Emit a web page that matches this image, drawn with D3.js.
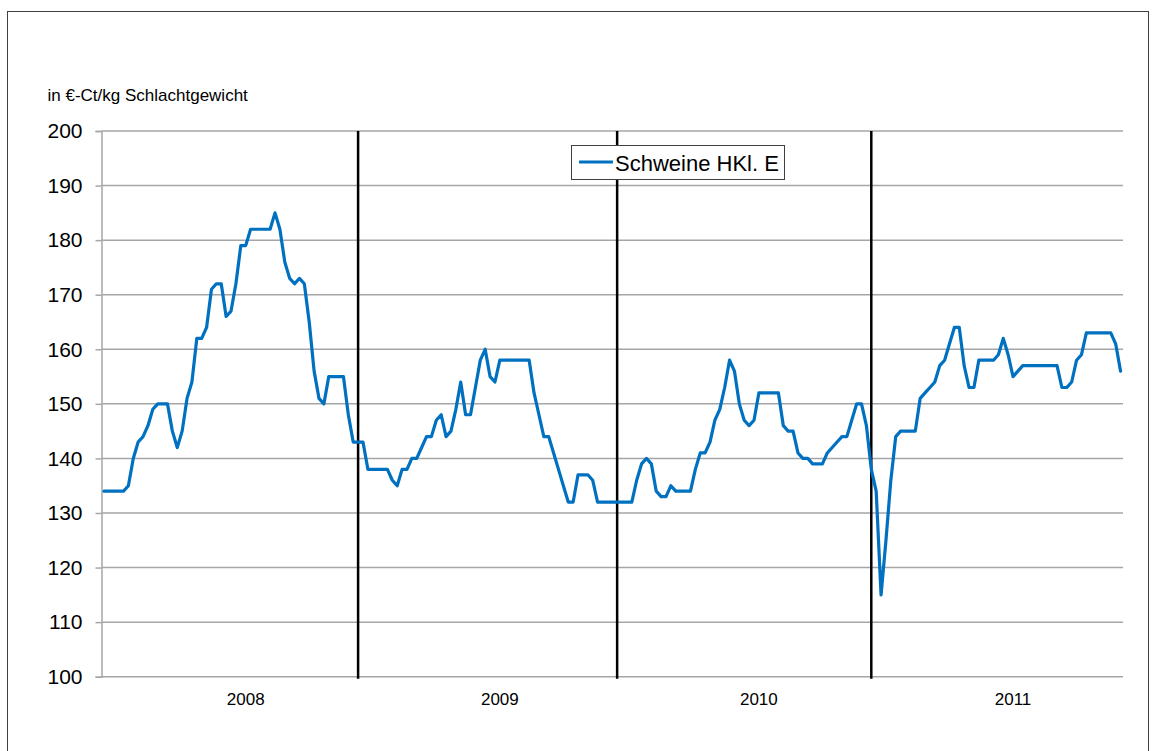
<!DOCTYPE html>
<html>
<head>
<meta charset="utf-8">
<script src="https://cdn.jsdelivr.net/npm/d3@7"></script>
<style>
  body { margin: 0; background: #fff; }
  svg text { font-family: "Liberation Sans", Arial, sans-serif; fill: #000; }
</style>
</head>
<body>
<div id="chart"></div>
<script>
// weekly prices, Schweine HKl. E (in €-Ct/kg Schlachtgewicht)
var prices2008 = [134,134,134,134,134,135,140,143,144,146,149,150,150,150,145,142,145,151,154,162,
  162,164,171,172,172,166,167,172,179,179,182,182,182,182,182,185,182,176,173,172,
  173,172,165,156,151,150,155,155,155,155,148,143];
var prices2009 = [143,143,138,138,138,138,138,136,135,138,138,140,140,142,144,144,147,148,144,145,
  149,154,148,148,153,158,160,155,154,158,158,158,158,158,158,158,152,148,144,144,
  141,138,135,132,132,137,137,137,136,132,132,132,132];
var prices2010 = [132,132,132,132,136,139,140,139,134,133,133,135,134,134,134,134,138,141,141,143,
  147,149,153,158,156,150,147,146,147,152,152,152,152,152,146,145,145,141,140,140,
  139,139,139,141,142,143,144,144,147,150,150,146];
var prices2011 = [138,134,115,125,136,144,145,145,145,145,151,152,153,154,157,158,161,164,164,157,
  153,153,158,158,158,158,159,162,159,155,156,157,157,157,157,157,157,157,157,153,
  153,154,158,159,163,163,163,163,163,163,161,156];

var years = ["2008", "2009", "2010", "2011"];
var yTicks = [100, 110, 120, 130, 140, 150, 160, 170, 180, 190, 200];
var seriesName = "Schweine HKl. E";
var unitLabel = "in €-Ct/kg Schlachtgewicht";

var width = 1156,
    height = 751,
    blue = "#0070c0",
    gridColor = "#a6a6a6",
    labelWeek = 29; // year label sits under this week of each year

var yearly = [prices2008, prices2009, prices2010, prices2011];
var data = [];
var yearStart = [];
yearly.forEach(function(arr) {
  yearStart.push(data.length);
  arr.forEach(function(v) { data.push(v); });
});

var svg = d3.select("#chart").append("svg")
    .attr("width", width)
    .attr("height", height);

// outer frame
svg.append("rect")
    .attr("x", 7.5).attr("y", 11.5)
    .attr("width", 1141).attr("height", 760)
    .attr("fill", "none")
    .attr("stroke", "#404040")
    .attr("stroke-width", 1);

var x = d3.scaleLinear()
    .domain([-0.5, data.length - 0.5])
    .range([101.5, 1123]);

var y = d3.scaleLinear()
    .domain([100, 200])
    .range([676.7, 131]);

// gridlines
svg.append("g").selectAll("line")
    .data(yTicks)
  .enter().append("line")
    .attr("x1", x.range()[0]).attr("x2", x.range()[1])
    .attr("y1", function(d) { return y(d); })
    .attr("y2", function(d) { return y(d); })
    .attr("stroke", gridColor)
    .attr("stroke-width", 1.5);

// y axis
var yAxis = svg.append("g")
    .attr("transform", "translate(" + x.range()[0] + ",0)")
    .call(d3.axisLeft(y).tickValues(yTicks).tickSize(6).tickPadding(13));
yAxis.select(".domain").attr("stroke", gridColor).attr("stroke-width", 1.5);
yAxis.selectAll(".tick line").attr("stroke", gridColor).attr("stroke-width", 1.5);
yAxis.selectAll("text")
    .style("font-family", "'Liberation Sans', Arial, sans-serif")
    .attr("font-size", 21)
    .attr("fill", "#000");

// year separators at week 1 of each following year
svg.append("g").selectAll("line")
    .data(yearStart.slice(1))
  .enter().append("line")
    .attr("x1", function(d) { return x(d); })
    .attr("x2", function(d) { return x(d); })
    .attr("y1", y(200))
    .attr("y2", y(100) + 2)
    .attr("stroke", "#000")
    .attr("stroke-width", 2.5);

// year labels
svg.append("g").selectAll("text")
    .data(years)
  .enter().append("text")
    .attr("x", function(d, i) { return x(yearStart[i] + labelWeek); })
    .attr("y", 705)
    .attr("text-anchor", "middle")
    .attr("font-size", 17)
    .text(function(d) { return d; });

// price line
var line = d3.line()
    .x(function(d, i) { return x(i); })
    .y(function(d) { return y(d); });

svg.append("path")
    .datum(data)
    .attr("d", line)
    .attr("fill", "none")
    .attr("stroke", blue)
    .attr("stroke-width", 3.2)
    .attr("stroke-linejoin", "round")
    .attr("stroke-linecap", "round");

// unit label
svg.append("text")
    .attr("x", 47.5)
    .attr("y", 101)
    .attr("font-size", 17)
    .text(unitLabel);

// legend
var legend = svg.append("g");
legend.append("rect")
    .attr("x", 571.5).attr("y", 145.5)
    .attr("width", 213).attr("height", 34)
    .attr("fill", "#fff")
    .attr("stroke", "#404040")
    .attr("stroke-width", 1);
legend.append("line")
    .attr("x1", 579).attr("x2", 613)
    .attr("y1", 162).attr("y2", 162)
    .attr("stroke", blue)
    .attr("stroke-width", 3.2);
legend.append("text")
    .attr("x", 615)
    .attr("y", 170.5)
    .attr("font-size", 22)
    .text(seriesName);
</script>
</body>
</html>
